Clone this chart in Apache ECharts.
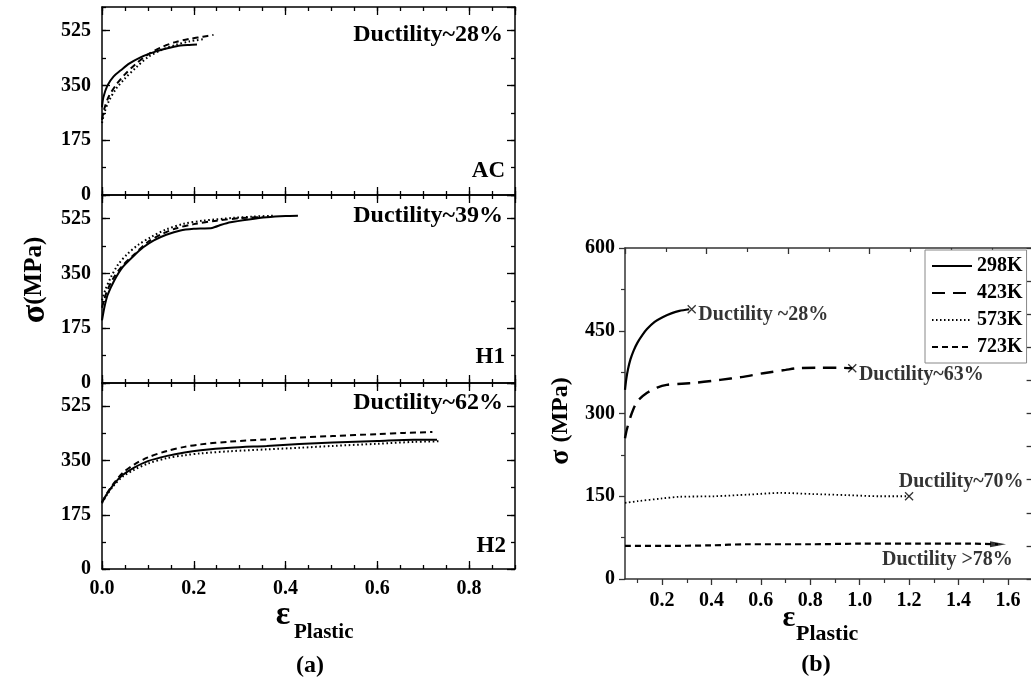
<!DOCTYPE html>
<html><head><meta charset="utf-8">
<script src="https://cdn.jsdelivr.net/npm/echarts@6/dist/echarts.min.js"></script>
<style>html,body{margin:0;padding:0;background:#fff}#c{width:1031px;height:685px}</style>
</head><body><div id="c"></div>
<script>
// ---------- (a) AC ----------
const acSolidX  = [0, 0.003, 0.012, 0.025, 0.041, 0.06, 0.085, 0.105, 0.128, 0.15, 0.171, 0.19, 0.207];
const acSolidY  = [280, 312, 350, 378, 398, 420, 440, 452, 463, 471, 477, 479, 480];
const acDashX   = [0, 0.005, 0.015, 0.03, 0.05, 0.075, 0.1, 0.13, 0.16, 0.19, 0.22, 0.243];
const acDashY   = [240, 275, 315, 350, 385, 420, 448, 472, 488, 498, 505, 511];
const acDotX    = [0, 0.005, 0.015, 0.03, 0.05, 0.075, 0.1, 0.13, 0.16, 0.19, 0.225];
const acDotY    = [230, 262, 300, 338, 372, 408, 440, 463, 479, 490, 498];
// ---------- (a) H1 ----------
const h1SolidX  = [0, 0.005, 0.012, 0.027, 0.045, 0.07, 0.09, 0.113, 0.14, 0.171, 0.2, 0.24, 0.26, 0.28, 0.32, 0.359, 0.4, 0.427];
const h1SolidY  = [200, 240, 280, 328, 370, 407, 433, 455, 473, 487, 492, 495, 505, 513, 522, 529, 533, 534];
const h1DashX   = [0, 0.01, 0.025, 0.045, 0.07, 0.1, 0.13, 0.16, 0.2, 0.25, 0.3, 0.35];
const h1DashY   = [240, 290, 335, 375, 410, 450, 475, 493, 507, 518, 526, 530];
const h1DotX    = [0, 0.008, 0.0195, 0.035, 0.0556, 0.08, 0.106, 0.14, 0.178, 0.22, 0.286, 0.33, 0.373];
const h1DotY    = [264, 300, 338, 378, 412, 442, 465, 490, 508, 518, 527, 531, 534];
// ---------- (a) H2 ----------
const h2SolidX  = [0, 0.01, 0.026, 0.045, 0.07, 0.1, 0.142, 0.18, 0.215, 0.28, 0.359, 0.43, 0.503, 0.6, 0.68, 0.73];
const h2SolidY  = [215, 240, 274, 303, 327, 348, 365, 376, 383, 391, 397, 403, 408, 413, 417, 417];
const h2DashX   = [0, 0.01, 0.026, 0.045, 0.07, 0.1, 0.142, 0.18, 0.215, 0.28, 0.359, 0.43, 0.503, 0.6, 0.66, 0.72];
const h2DashY   = [215, 242, 277, 310, 337, 360, 381, 394, 402, 411, 418, 424, 429, 435, 439, 442];
const h2DotX    = [0, 0.01, 0.026, 0.045, 0.07, 0.1, 0.142, 0.18, 0.215, 0.28, 0.359, 0.43, 0.503, 0.6, 0.68, 0.735];
const h2DotY    = [212, 238, 270, 298, 320, 340, 358, 367, 373, 380, 386, 391, 397, 404, 410, 412];
// ---------- (b) ----------
const k298X = [0.05, 0.055, 0.062, 0.072, 0.085, 0.1, 0.12, 0.139, 0.17, 0.204, 0.24, 0.27, 0.31];
const k298Y = [343, 362, 380, 398, 414, 428, 442, 453, 466, 475, 482, 486, 489];
const k423X = [0.05, 0.058, 0.077, 0.1, 0.138, 0.18, 0.219, 0.28, 0.34, 0.435, 0.52, 0.61, 0.7, 0.745, 0.83, 0.92, 0.97];
const k423Y = [255, 272, 300, 322, 337, 347, 352, 354, 356, 361, 366, 373, 379, 382, 383, 383, 382];
const k573X = [0.05, 0.1, 0.2, 0.27, 0.41, 0.55, 0.68, 0.81, 0.95, 1.08, 1.2];
const k573Y = [138, 141, 146, 149, 150, 153, 156, 154, 152, 150, 150];
const k723X = [0.05, 0.2, 0.4, 0.54, 0.8, 1.0, 1.24, 1.45, 1.56];
const k723Y = [60, 60, 61, 63, 63, 64, 64, 64, 63];
const fracX = [0.32, 0.97, 1.2];
const fracY = [489, 382, 150];
const fracLabels = ['Ductility ~28%', 'Ductility~63%', 'Ductility~70%'];
const arrowX = [1.56];
const arrowY = [63];
const arrowLabel = 'Ductility >78%';
const legendNames = ['298K', '423K', '573K', '723K'];
const leftYTicksMajor = 175, leftYTicksMinor = 87.5;
const rightXTicks = [0.2, 0.4, 0.6, 0.8, 1.0, 1.2, 1.4, 1.6];
const rightXMinor = [0.1, 0.3, 0.5, 0.7, 0.9, 1.1, 1.3, 1.5, 1.7];

const FONT = 'Liberation Serif';
const zip = (xs, ys) => xs.map((x, i) => [x, ys[i]]);
const LS = {
  solid:  {type: 'solid', width: 2},
  dash:   {type: [6, 4], width: 2},
  dot:    {type: [1.6, 2.6], width: 2}
};
const lbl = (extra) => Object.assign({color: '#000', fontFamily: FONT, fontWeight: 'bold', fontSize: 19}, extra);

function lx(gi, pos, major, labels) {
  return {type: 'value', gridIndex: gi, position: pos, min: 0, max: 0.9, interval: major ? 0.2 : 0.05,
    axisLine: {show: major, onZero: false, lineStyle: {color: '#000', width: 1.5}},
    axisTick: {show: true, inside: true, length: major ? 8 : 4, lineStyle: {color: '#000', width: 1.3}},
    axisLabel: lbl({show: labels, showMaxLabel: false, margin: 10, fontSize: 20, formatter: v => v.toFixed(1)}),
    splitLine: {show: false}};
}
function ly(gi, pos, major, labels) {
  return {type: 'value', gridIndex: gi, position: pos, min: 0, max: 600, interval: major ? leftYTicksMajor : leftYTicksMinor,
    axisLine: {show: major, onZero: false, lineStyle: {color: '#000', width: 1.5}},
    axisTick: {show: true, inside: true, length: major ? 8 : 4, lineStyle: {color: '#000', width: 1.3}},
    axisLabel: lbl({show: labels, showMaxLabel: false, margin: 11, fontSize: 20}),
    splitLine: {show: false}};
}
const xAxis = [], yAxis = [];
for (let g = 0; g < 3; g++) {
  xAxis.push(lx(g, 'bottom', true, g === 2));   // 4g
  xAxis.push(lx(g, 'top', true, false));        // 4g+1
  xAxis.push(lx(g, 'bottom', false, false));    // 4g+2
  xAxis.push(lx(g, 'top', false, false));       // 4g+3
  yAxis.push(ly(g, 'left', true, true));
  yAxis.push(ly(g, 'right', true, false));
  yAxis.push(ly(g, 'left', false, false));
  yAxis.push(ly(g, 'right', false, false));
}
const AX = '#333';
// right chart: x index 12,13,14 ; y index 12,13
xAxis.push({type: 'value', gridIndex: 3, position: 'bottom', min: 0.05, max: 1.7,
  axisLine: {show: true, onZero: false, lineStyle: {color: AX, width: 1.5}},
  axisTick: {show: true, inside: false, length: 6, customValues: rightXTicks, lineStyle: {color: AX, width: 1.3}},
  axisLabel: lbl({customValues: rightXTicks, margin: 12, fontSize: 20, formatter: v => v.toFixed(1)}),
  splitLine: {show: false}});
xAxis.push({type: 'value', gridIndex: 3, position: 'bottom', min: 0.05, max: 1.7,
  axisLine: {show: false},
  axisTick: {show: true, inside: false, length: 4, customValues: rightXMinor, lineStyle: {color: AX, width: 1.2}},
  axisLabel: {show: false}, splitLine: {show: false}});
xAxis.push({type: 'value', gridIndex: 3, position: 'top', min: 0, max: 5, interval: 1,
  axisLine: {show: true, onZero: false, lineStyle: {color: AX, width: 1.5}},
  axisTick: {show: true, inside: true, length: 6, lineStyle: {color: AX, width: 1.3}},
  minorTick: {show: true, splitNumber: 2, length: 4, lineStyle: {color: AX, width: 1.2}},
  axisLabel: {show: false}, splitLine: {show: false}, minorSplitLine: {show: false}});
yAxis.push({type: 'value', gridIndex: 3, position: 'left', min: 0, max: 600, interval: 150,
  axisLine: {show: true, onZero: false, lineStyle: {color: AX, width: 1.5}},
  axisTick: {show: true, inside: false, length: 6, lineStyle: {color: AX, width: 1.3}},
  minorTick: {show: true, splitNumber: 2, length: 4, lineStyle: {color: AX, width: 1.2}},
  axisLabel: lbl({margin: 10, fontSize: 20}), splitLine: {show: false}, minorSplitLine: {show: false}});
yAxis.push({type: 'value', gridIndex: 3, position: 'right', min: 0, max: 10, interval: 1,
  axisLine: {show: true, onZero: false, lineStyle: {color: AX, width: 1.5}},
  axisTick: {show: true, inside: true, length: 6, lineStyle: {color: AX, width: 1.3}},
  axisLabel: {show: false}, splitLine: {show: false}});

function line(name, g, xs, ys, st, smooth) {
  return {type: 'line', name: name, xAxisIndex: g * 4, yAxisIndex: g * 4, data: zip(xs, ys),
    symbol: 'none', smooth: smooth === undefined ? 0.3 : smooth, silent: true,
    lineStyle: Object.assign({color: '#000'}, st), itemStyle: {color: '#000'}};
}
function rline(name, xs, ys, st) {
  return {type: 'line', name: name, xAxisIndex: 12, yAxisIndex: 12, data: zip(xs, ys),
    symbol: 'none', smooth: 0.3, silent: true,
    lineStyle: Object.assign({color: '#000'}, st), itemStyle: {color: '#000'}};
}
const fracOffsets = [[-3, 6], [-3, 7], [-20, -14]];
const series = [
  line('ac1', 0, acSolidX, acSolidY, LS.solid),
  line('ac2', 0, acDashX, acDashY, LS.dash),
  line('ac3', 0, acDotX, acDotY, LS.dot),
  line('h11', 1, h1SolidX, h1SolidY, LS.solid, 0.15),
  line('h12', 1, h1DashX, h1DashY, LS.dash),
  line('h13', 1, h1DotX, h1DotY, LS.dot),
  line('h21', 2, h2SolidX, h2SolidY, LS.solid),
  line('h22', 2, h2DashX, h2DashY, LS.dash),
  line('h23', 2, h2DotX, h2DotY, LS.dot),
  rline('298K', k298X, k298Y, {type: 'solid', width: 2.2}),
  rline('423K', k423X, k423Y, {type: [13, 8], width: 2.4}),
  rline('573K', k573X, k573Y, {type: [1.5, 2.5], width: 1.8}),
  rline('723K', k723X, k723Y, {type: [6, 4], width: 2.2}),
  {type: 'scatter', name: 'frac', xAxisIndex: 12, yAxisIndex: 12, silent: true,
   symbol: 'path://M0,0L10,10M10,0L0,10', symbolSize: 8,
   itemStyle: {color: 'rgba(0,0,0,0)', borderColor: '#000', borderWidth: 1.3},
   data: fracX.map((x, i) => ({value: [x, fracY[i]],
     label: {show: true, position: 'right', distance: 5, offset: fracOffsets[i], formatter: fracLabels[i],
       color: '#000', fontFamily: FONT, fontWeight: 'bold', fontSize: 20}}))},
  {type: 'scatter', name: 'arrow', xAxisIndex: 12, yAxisIndex: 12, silent: true,
   symbol: 'path://M0,0L10,5L0,10Z', symbolSize: [16, 6], itemStyle: {color: '#000'},
   data: arrowX.map((x, i) => ({value: [x, arrowY[i]],
     label: {show: true, position: 'right', distance: 5, offset: [-129, 16], formatter: arrowLabel,
       color: '#000', fontFamily: FONT, fontWeight: 'bold', fontSize: 20}}))}
];

function txt(x, y, text, size, align) {
  return {type: 'text', x: x, y: y, silent: true,
    style: {text: text, fill: '#000', font: 'bold ' + size + 'px "' + FONT + '"',
      textAlign: align || 'center', textVerticalAlign: 'middle'}};
}
const richSigma = (s1, s2) => ({
  s: {fontFamily: FONT, fontWeight: 'bold', fontSize: s1, fill: '#000'},
  m: {fontFamily: FONT, fontWeight: 'bold', fontSize: s2, fill: '#000'}
});
const graphic = [
  txt(503, 35, 'Ductility~28%', 24, 'right'),
  txt(505, 171, 'AC', 23, 'right'),
  txt(503, 216, 'Ductility~39%', 24, 'right'),
  txt(505, 357, 'H1', 23, 'right'),
  txt(503, 403, 'Ductility~62%', 24, 'right'),
  txt(506, 546, 'H2', 23, 'right'),
  {type: 'text', x: 35, y: 280, rotation: Math.PI / 2, silent: true,
   style: {text: '{s|σ}{m|(MPa)}', rich: richSigma(34, 25), textAlign: 'center', textVerticalAlign: 'middle'}},
  {type: 'text', x: 561, y: 421, rotation: Math.PI / 2, silent: true,
   style: {text: '{s|σ }{m|(MPa)}', rich: richSigma(28, 24), textAlign: 'center', textVerticalAlign: 'middle'}},
  txt(283, 615, 'ε', 34),
  txt(294, 633, 'Plastic', 21, 'left'),
  txt(789, 618, 'ε', 30),
  txt(796, 634, 'Plastic', 22, 'left'),
  txt(310, 666, '(a)', 24),
  txt(816, 665, '(b)', 24)
];

const chart = echarts.init(document.getElementById('c'), null, {renderer: 'canvas'});
chart.setOption({
  animation: false,
  backgroundColor: '#fff',
  grid: [
    {left: 102, top: 7, width: 413, height: 188, outerBoundsMode: 'none'},
    {left: 102, top: 195, width: 413, height: 188, outerBoundsMode: 'none'},
    {left: 102, top: 383, width: 413, height: 186, outerBoundsMode: 'none'},
    {left: 625, top: 248, width: 407.6, height: 331, outerBoundsMode: 'none'}
  ],
  legend: {data: legendNames, orient: 'vertical', left: 925, top: 250, padding: [6, 4, 6, 6],
    itemGap: 7, itemWidth: 40, itemHeight: 18, borderColor: '#888', borderWidth: 1,
    backgroundColor: '#fff', selectedMode: false,
    itemStyle: {opacity: 0, color: 'rgba(0,0,0,0)', borderWidth: 0},
    textStyle: {fontFamily: FONT, fontWeight: 'bold', fontSize: 20, color: '#000'}},
  xAxis: xAxis,
  yAxis: yAxis,
  series: series,
  graphic: graphic
});
</script></body></html>
